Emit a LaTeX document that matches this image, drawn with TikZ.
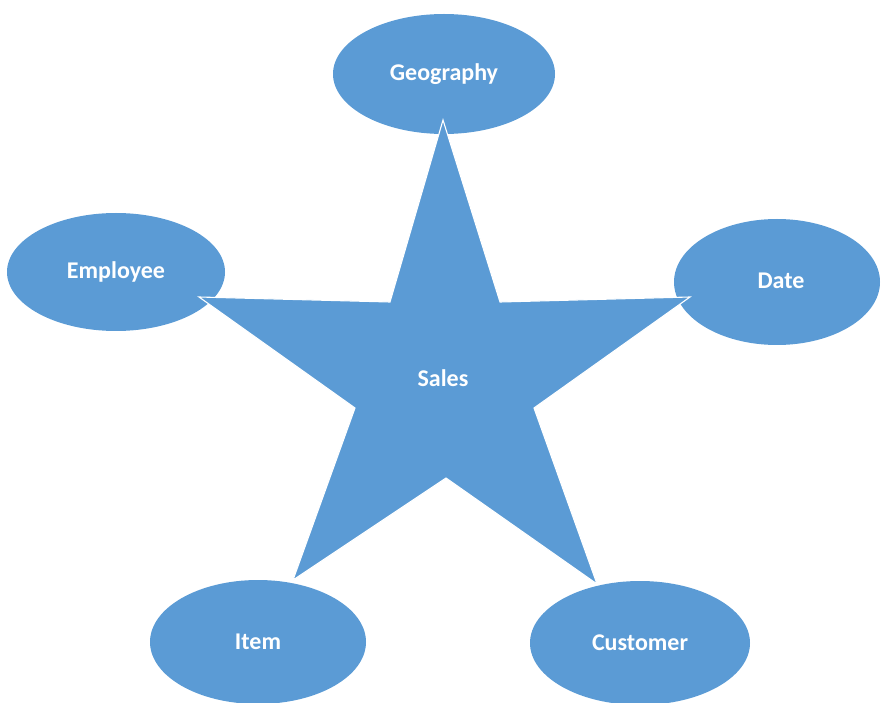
\documentclass[tikz,border=0pt]{standalone}
\usepackage{fontspec}
\setmainfont{Carlito}
\usetikzlibrary{shapes.geometric}
\definecolor{dimblue}{RGB}{91,155,213}
\tikzset{
    dim/.style={ellipse, fill=dimblue, inner sep=0pt},
    lbl/.style={text=white, font=\bfseries\fontsize{24}{28}\selectfont}
}
\begin{document}
\begin{tikzpicture}[x=1pt,y=-1pt]
    \useasboundingbox (0,0) rectangle (881,703);
    \node[dim, minimum width=222pt, minimum height=120pt] (geo) at (444,74) {};
    \node[dim, minimum width=218pt, minimum height=118pt] (emp) at (116,272) {};
    \node[dim, minimum width=206pt, minimum height=126pt] (date) at (777,282) {};
    \node[dim, minimum width=216pt, minimum height=124pt] (item) at (258,642) {};
    \node[dim, minimum width=220pt, minimum height=124pt] (cust) at (640,643) {};
    % fact star
    \coordinate (t) at (443,120);
    \coordinate (ti) at (500,302);
    \coordinate (r) at (690,297);
    \coordinate (ri) at (534,408);
    \coordinate (br) at (597,584);
    \coordinate (bi) at (446,478);
    \coordinate (bl) at (293,580);
    \coordinate (li) at (355,408);
    \coordinate (l) at (199,297);
    \coordinate (tl) at (390,302);
    \draw[white, fill=dimblue, line width=1.1pt, line join=miter]
        (t) -- (ti) -- (r) -- (ri) -- (br) -- (bi) -- (bl) -- (li) -- (l) -- (tl) -- cycle;
    \node[lbl] (sales) at (443,378) {Sales};
    \node[lbl] at (geo) {Geography};
    \node[lbl] at (emp) {Employee};
    \node[lbl] at (781,281) {Date};
    \node[lbl] at (item) {Item};
    \node[lbl] at (cust) {Customer};
\end{tikzpicture}
\end{document}
